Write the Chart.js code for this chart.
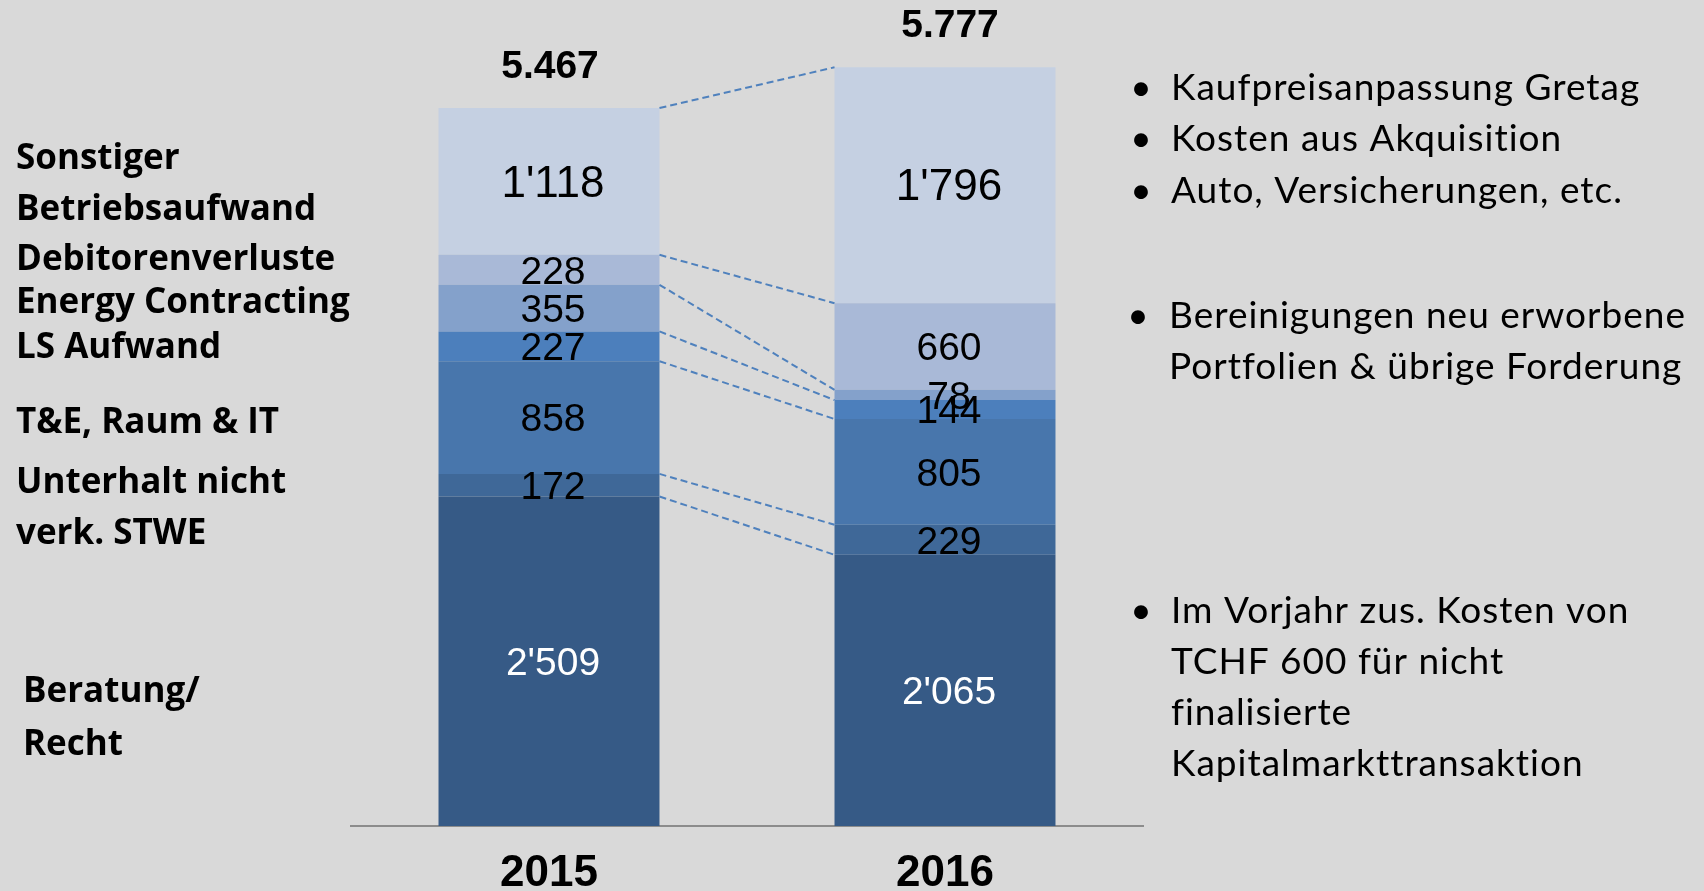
<!DOCTYPE html>
<html>
<head>
<meta charset="utf-8">
<script src="https://cdn.jsdelivr.net/npm/chart.js@4.4.1/dist/chart.umd.min.js"></script>
<style>
  html, body { margin: 0; padding: 0; background: #d9d9d9; }
  #wrap { width: 1704px; height: 891px; }
</style>
</head>
<body>
<div id="wrap"><canvas id="myChart" width="1704" height="891"></canvas></div>
<script>
// data (TCHF), bottom segment first
const years = ["2015", "2016"];
const beratung = [2509, 2065];
const unterhalt = [172, 229];
const teRaumIt = [858, 805];
const lsAufwand = [227, 144];
const energyContracting = [355, 78];
const debitorenverluste = [228, 660];
const sonstiger = [1118, 1796];
const totals = [5467, 5777];

const seriesNames = ["Beratung/Recht", "Unterhalt nicht verk. STWE", "T&E, Raum & IT", "LS Aufwand",
  "Energy Contracting", "Debitorenverluste", "Sonstiger Betriebsaufwand"];
const seriesValues = [beratung, unterhalt, teRaumIt, lsAufwand, energyContracting, debitorenverluste, sonstiger];
const colors = ["#365a86", "#3f6898", "#4876ac", "#4c7fbc", "#84a1cb", "#a9b9d7", "#c5d0e2"];

// left side labels: [text, x, baseline]
const leftLabels = [
  ["Sonstiger", 16, 169],
  ["Betriebsaufwand", 16, 220],
  ["Debitorenverluste", 16, 270],
  ["Energy Contracting", 16, 313],
  ["LS Aufwand", 16, 358],
  ["T&E, Raum & IT", 16, 433],
  ["Unterhalt nicht", 16, 493],
  ["verk. STWE", 16, 544],
  ["Beratung/", 23, 702],
  ["Recht", 23, 755]
];

// comments on the right: each block is a list of lines, first line gets the bullet
const notes = [
  { y: 100, lines: ["Kaufpreisanpassung Gretag"] },
  { y: 151, lines: ["Kosten aus Akquisition"] },
  { y: 203, lines: ["Auto, Versicherungen, etc."] },
  { y: 328, lines: ["Bereinigungen neu erworbene", "Portfolien & übrige Forderung"] },
  { y: 623, lines: ["Im Vorjahr zus. Kosten von", "TCHF 600 für nicht", "finalisierte", "Kapitalmarkttransaktion"] }
];

function fmt(n) {
  if (n >= 1000) {
    return Math.floor(n / 1000) + "'" + String(n % 1000).padStart(3, "0");
  }
  return String(n);
}

const overlay = {
  id: "overlay",
  afterDatasetsDraw(chart) {
    const ctx = chart.ctx;
    const metas = chart.data.datasets.map((d, i) => chart.getDatasetMeta(i));

    // dashed connectors between the two bars
    ctx.save();
    ctx.strokeStyle = "#4f81bd";
    ctx.lineWidth = 2;
    ctx.setLineDash([7, 4]);
    metas.forEach((m) => {
      const a = m.data[0], b = m.data[1];
      ctx.beginPath();
      ctx.moveTo(a.x + a.width / 2, a.y);
      ctx.lineTo(b.x - b.width / 2, b.y);
      ctx.stroke();
    });
    ctx.restore();

    // segment values
    ctx.save();
    ctx.textAlign = "center";
    ctx.textBaseline = "middle";
    metas.forEach((m, i) => {
      m.data.forEach((el, j) => {
        const v = seriesValues[i][j];
        ctx.font = (i == 6 ? "44px" : "39px") + " 'Liberation Sans', Arial, sans-serif";
        ctx.fillStyle = i == 0 ? "#ffffff" : "#000000";
        ctx.fillText(fmt(v), el.x + 4, (el.y + el.base) / 2 + 3);
      });
    });
    ctx.restore();
  },
  afterDraw(chart) {
    const ctx = chart.ctx;
    const xScale = chart.scales.x;
    const top = chart.getDatasetMeta(seriesValues.length - 1);

    ctx.save();
    ctx.fillStyle = "#000";
    ctx.textAlign = "center";
    ctx.textBaseline = "alphabetic";
    // totals
    ctx.font = "bold 39px 'Liberation Sans', Arial, sans-serif";
    top.data.forEach((el, j) => {
      ctx.fillText(String(totals[j]).replace(/(\d)(\d{3})$/, "$1.$2"), el.x + 1 + j * 4, el.y - 30);
    });
    // years
    ctx.font = "bold 44px 'Liberation Sans', Arial, sans-serif";
    years.forEach((y, j) => {
      ctx.fillText(y, xScale.getPixelForValue(j), 886);
    });

    // left labels
    ctx.textAlign = "left";
    ctx.font = "bold 35px 'Open Sans', sans-serif";
    leftLabels.forEach((l) => ctx.fillText(l[0], l[1], l[2]));

    // notes
    ctx.font = "37px Lato, sans-serif";
    notes.forEach((n) => {
      const bx = n.lines.length == 2 ? 1138 : 1141;
      const tx = n.lines.length == 2 ? 1169 : 1171;
      ctx.textAlign = "center";
      ctx.letterSpacing = "0px";
      ctx.fillText("•", bx, n.y);
      ctx.textAlign = "left";
      ctx.letterSpacing = "1px";
      n.lines.forEach((t, k) => ctx.fillText(t, tx, n.y + k * 51));
    });
    ctx.restore();
  }
};

const ctx = document.getElementById("myChart").getContext("2d");
const myChart = new Chart(ctx, {
  type: "bar",
  data: {
    labels: years,
    datasets: seriesValues.map((vals, i) => ({
      label: seriesNames[i],
      data: vals,
      backgroundColor: colors[i],
      borderWidth: 0,
      categoryPercentage: 1,
      barPercentage: 0.558
    }))
  },
  options: {
    responsive: false,
    animation: false,
    layout: { padding: { left: 351, right: 561, top: 38, bottom: 0 } },
    plugins: { legend: { display: false }, tooltip: { enabled: false } },
    scales: {
      x: {
        stacked: true,
        grid: { display: false },
        border: { display: true, color: "#8c8c8c", width: 2 },
        ticks: { display: false },
        afterFit: (s) => { s.height = 65; }
      },
      y: {
        stacked: true,
        display: false,
        min: 0,
        max: 6000
      }
    }
  },
  plugins: [overlay]
});
</script>
</body>
</html>
